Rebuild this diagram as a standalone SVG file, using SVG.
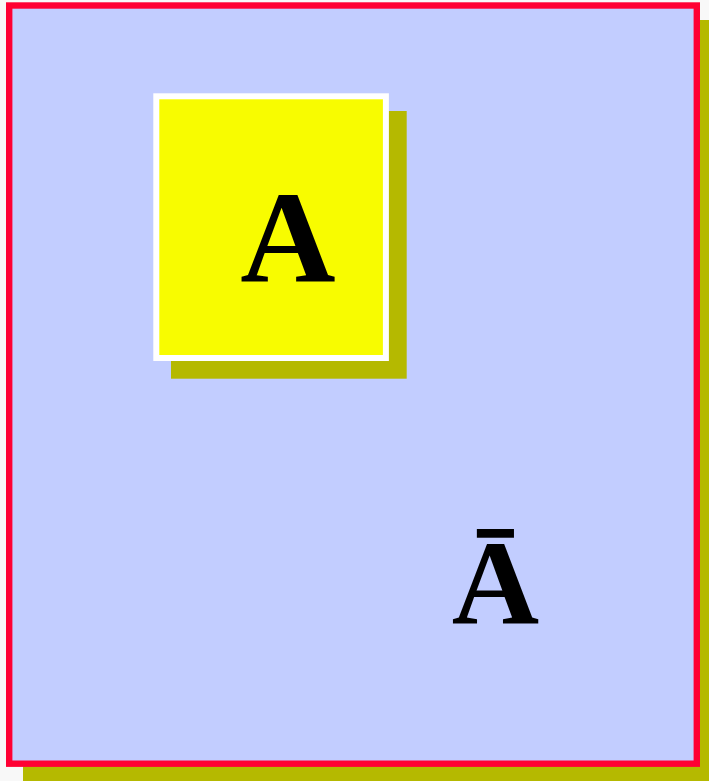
<svg xmlns="http://www.w3.org/2000/svg" width="709" height="781" viewBox="0 0 709 781">
<style>
.shadow{fill:#b5b900}
.lbl{font-family:"Liberation Serif","Times New Roman",serif;font-weight:bold;fill:#000;text-anchor:middle}
</style>
<rect x="0" y="0" width="709" height="781" fill="#f8f8f8"/>
<g id="outer">
<rect class="shadow" x="23" y="20" width="700" height="770"/>
<rect x="9.2" y="5.5" width="687.6" height="758.2" fill="#c2cdff" stroke="#ff0033" stroke-width="6.4"/>
<text class="lbl" x="495.5" y="623" font-size="121">Ā</text>
</g>
<g id="nodeA">
<rect class="shadow" x="171" y="111" width="235.7" height="267.7"/>
<rect x="156.3" y="96.3" width="229.6" height="261.7" fill="#f8fc00" stroke="#ffffff" stroke-width="6"/>
<text class="lbl" x="288" y="281.5" font-size="132">A</text>
</g>
<g id="connectors"/>
</svg>
